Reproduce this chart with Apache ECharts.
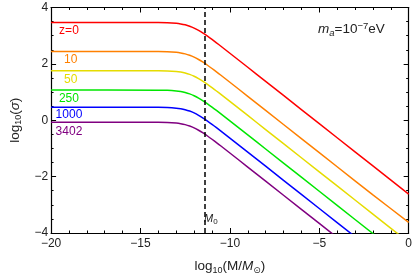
<!DOCTYPE html>
<html>
<head>
<meta charset="utf-8">
<script src="https://cdn.jsdelivr.net/npm/echarts@6/dist/echarts.min.js"></script>
<style>
html,body{margin:0;padding:0;background:#fff;}
#c{width:415px;height:280px;}
</style>
</head>
<body>
<div id="c"></div>
<script>
// log10(M/Msun) sample positions
var xs = [-20, -14, -13.5, -13, -12.75, -12.5, -12.25, -12, -11.75, -11.5, -11.25, -11, -10.75, -10.5, -10, -9, -8, -6, -4, -2, 0];
// log10(sigma) per redshift
var z0    = [3.47, 3.467, 3.46, 3.439, 3.418, 3.385, 3.336, 3.27, 3.186, 3.089, 2.981, 2.866, 2.747, 2.626, 2.378, 1.88, 1.38, 0.38, -0.62, -1.62, -2.62];
var z10   = [2.44, 2.437, 2.43, 2.409, 2.388, 2.355, 2.306, 2.24, 2.156, 2.059, 1.951, 1.836, 1.717, 1.596, 1.348, 0.85, 0.35, -0.65, -1.65, -2.65, -3.62];
var z50   = [1.76, 1.757, 1.75, 1.729, 1.708, 1.675, 1.626, 1.56, 1.476, 1.379, 1.271, 1.156, 1.037, 0.916, 0.668, 0.17, -0.33, -1.33, -2.33, -3.33, -4.33];
var z250  = [1.07, 1.067, 1.06, 1.039, 1.018, 0.985, 0.936, 0.87, 0.786, 0.689, 0.581, 0.466, 0.347, 0.226, -0.022, -0.52, -1.02, -2.02, -3.02, -4.02, -5.02];
var z1000 = [0.46, 0.457, 0.45, 0.429, 0.408, 0.375, 0.326, 0.26, 0.176, 0.079, -0.029, -0.144, -0.263, -0.384, -0.632, -1.13, -1.63, -2.63, -3.63, -4.63, -5.63];
var z3402 = [-0.07, -0.073, -0.08, -0.101, -0.122, -0.155, -0.204, -0.27, -0.354, -0.451, -0.559, -0.674, -0.793, -0.914, -1.162, -1.66, -2.16, -3.16, -4.16, -5.16, -6.16];
var seriesNames = ['z=0', '10', '50', '250', '1000', '3402'];
var seriesData = [z0, z10, z50, z250, z1000, z3402];
var colors = ['#ff0000', '#ff8000', '#e6dc00', '#00e600', '#0000ff', '#800080'];
// label anchor positions (data coords)
var labelX = [-19.0, -18.9, -18.9, -19.0, -19.0, -19.0];
var labelY = [3.18, 2.16, 1.43, 0.76, 0.19, -0.40];
var M0 = -11.43;
var xTicks = [-20, -15, -10, -5, 0];
var yTicks = [-4, -2, 0, 2, 4];

var FONT = 'Liberation Sans, Arial, sans-serif';
function fmt(v){ return String(v).replace('-', '\u2212'); }

var chart = echarts.init(document.getElementById('c'), null, {renderer:'canvas'});

var axisCommon = {
  axisLine: {show: true, onZero: false, lineStyle: {color: '#000', width: 1.2}},
  axisTick: {show: true, inside: true, length: 5, lineStyle: {color: '#000', width: 1}},
  minorTick: {show: true, length: 2.5, lineStyle: {color: '#000', width: 1}},
  splitLine: {show: false},
  minorSplitLine: {show: false}
};

var series = [];
for (var i = 0; i < seriesData.length; i++) {
  var pts = [];
  for (var j = 0; j < xs.length; j++) pts.push([xs[j], seriesData[i][j]]);
  var s = {
    type: 'line', name: seriesNames[i], data: pts, showSymbol: false, symbol: 'none',
    smooth: 0.2, clip: true,
    lineStyle: {color: colors[i], width: 1.5},
    markPoint: {
      symbol: 'circle', symbolSize: 0, silent: true,
      data: [{coord: [labelX[i], labelY[i]], value: seriesNames[i]}],
      label: {show: true, position: 'inside', formatter: seriesNames[i], color: colors[i], fontSize: 12, fontFamily: FONT}
    }
  };
  if (i === 0) {
    s.markLine = {
      silent: true, symbol: ['none', 'none'],
      lineStyle: {color: '#000', type: [5, 3], width: 1.5},
      label: {show: false},
      data: [{xAxis: M0}]
    };
  }
  series.push(s);
}

chart.setOption({
  animation: false,
  backgroundColor: '#fff',
  grid: {left: 45, right: 6, top: 7.5, bottom: 47, containLabel: false},
  xAxis: [
    Object.assign({}, axisCommon, {
      type: 'value', min: -20, max: 0, interval: 5, position: 'bottom',
      minorTick: Object.assign({}, axisCommon.minorTick, {splitNumber: 5}),
      axisLabel: {color: '#222', fontSize: 12, fontFamily: FONT, margin: 5, formatter: function(v){ return fmt(v); }},
      name: 'log{s|10}(M/{i|M}{o|\u2299})', nameLocation: 'middle', nameGap: 25,
      nameTextStyle: {color: '#222', fontSize: 13.5, fontFamily: FONT,
        rich: {
          s: {fontSize: 9, fontFamily: FONT, color: '#222', verticalAlign: 'bottom', padding: [8, 0, 0, 0]},
          i: {fontSize: 13.5, fontFamily: FONT, color: '#222', fontStyle: 'italic'},
          o: {fontSize: 9, fontFamily: 'DejaVu Sans', color: '#222', verticalAlign: 'bottom', padding: [8, 0, 0, 0]}
        }}
    }),
    Object.assign({}, axisCommon, {
      type: 'value', min: -20, max: 0, interval: 5, position: 'top',
      minorTick: Object.assign({}, axisCommon.minorTick, {splitNumber: 5}),
      axisLabel: {show: false}
    })
  ],
  yAxis: [
    Object.assign({}, axisCommon, {
      type: 'value', min: -4, max: 4, interval: 2, position: 'left',
      minorTick: Object.assign({}, axisCommon.minorTick, {splitNumber: 4}),
      axisLabel: {color: '#222', fontSize: 12, fontFamily: FONT, margin: 3, formatter: function(v){ return fmt(v); }},
      name: 'log{s|10}({i|\u03c3})', nameLocation: 'middle', nameGap: 26,
      nameTextStyle: {color: '#222', fontSize: 13.5, fontFamily: FONT,
        rich: {
          s: {fontSize: 9, fontFamily: FONT, color: '#222', verticalAlign: 'bottom', padding: [8, 0, 0, 0]},
          i: {fontSize: 13.5, fontFamily: FONT, color: '#222', fontStyle: 'italic'}
        }}
    }),
    Object.assign({}, axisCommon, {
      type: 'value', min: -4, max: 4, interval: 2, position: 'right',
      minorTick: Object.assign({}, axisCommon.minorTick, {splitNumber: 4}),
      axisLabel: {show: false}
    })
  ],
  graphic: [
    {type: 'text', left: 318, top: 21, silent: true,
      style: {text: '{i|m}{s|a}=10{p|\u22127}eV', fontSize: 13.5, fontFamily: FONT, fill: '#222',
        rich: {
          i: {fontSize: 13.5, fontStyle: 'italic', fontFamily: FONT, fill: '#222'},
          s: {fontSize: 9.5, fontStyle: 'italic', fontFamily: FONT, fill: '#222', verticalAlign: 'bottom', padding: [7, 0, 0, 0]},
          p: {fontSize: 9.5, fontFamily: FONT, fill: '#222', verticalAlign: 'top', padding: [0, 0, 6, 0]}
        }}},
    {type: 'text', left: 204, top: 213, silent: true,
      style: {text: '{i|M}{s|0}', fontSize: 11, fontFamily: FONT, fill: '#222',
        rich: {
          i: {fontSize: 11, fontStyle: 'italic', fontFamily: FONT, fill: '#222'},
          s: {fontSize: 8, fontFamily: FONT, fill: '#222', verticalAlign: 'bottom', padding: [6, 0, 0, 0]}
        }}}
  ],
  series: series
});
</script>
</body>
</html>
